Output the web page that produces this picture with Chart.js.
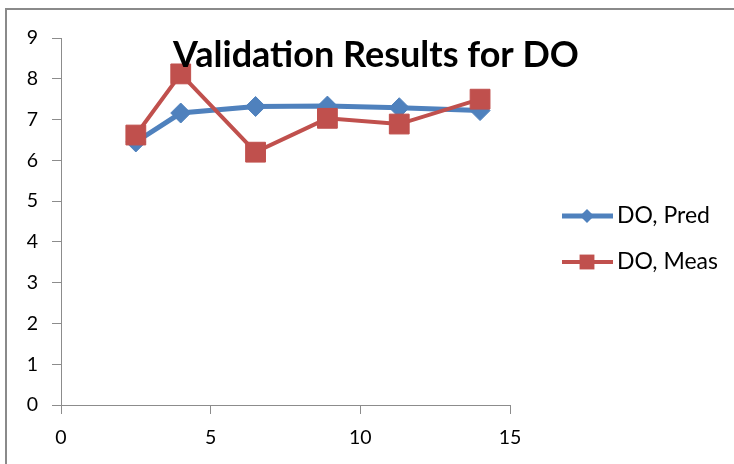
<!DOCTYPE html>
<html>
<head>
<meta charset="utf-8">
<script src="https://cdn.jsdelivr.net/npm/chart.js@4.4.0/dist/chart.umd.min.js"></script>
<style>
  html, body { margin: 0; padding: 0; background: #fff; }
  #wrap { position: relative; width: 734px; height: 464px; overflow: hidden; }
  #frame { position: absolute; left: 5px; top: 8px; width: 800px; height: 500px;
           border-left: 2px solid #8a8a8a; border-top: 2px solid #8a8a8a; }
  canvas { position: absolute; left: 0; top: 0; }
</style>
</head>
<body>
<div id="wrap">
  <div id="frame"></div>
  <canvas id="doChart" width="734" height="464"></canvas>
</div>
<script>
// ---- data ----
const chartTitle = 'Validation Results for DO';
const seriesNames = ['DO, Pred', 'DO, Meas'];
const xValues = [2.5, 4, 6.5, 8.9, 11.3, 14];
const predValues = [6.45, 7.16, 7.32, 7.33, 7.29, 7.22];
const measValues = [6.62, 8.12, 6.2, 7.03, 6.89, 7.5];
const xTicks = [0, 5, 10, 15];
const yTicks = [0, 1, 2, 3, 4, 5, 6, 7, 8, 9];

const blue = '#4F81BD';
const red = '#C0504D';
const axisGray = '#8c8c8c';

function toPoints(ys) {
    return xValues.map((x, i) => ({ x: x, y: ys[i] }));
}

// marker drawing shared by the legend
function drawMarker(ctx, style, r, x, y, color) {
    ctx.fillStyle = color;
    ctx.beginPath();
    if (style === 'rect') {
        const s = Math.SQRT1_2 * r;
        ctx.rect(x - s, y - s, 2 * s, 2 * s);
    } else {
        ctx.moveTo(x, y - r);
        ctx.lineTo(x + r, y);
        ctx.lineTo(x, y + r);
        ctx.lineTo(x - r, y);
        ctx.closePath();
    }
    ctx.fill();
}

// title overlaid on the plot, like the original
const overlayTitle = {
    id: 'overlayTitle',
    afterDraw(chart) {
        const ctx = chart.ctx;
        ctx.save();
        ctx.font = 'bold 36px Lato';
        ctx.fillStyle = '#000';
        ctx.textAlign = 'center';
        ctx.textBaseline = 'alphabetic';
        ctx.fillText(chartTitle, 376, 67);
        ctx.restore();
    }
};

// legend with line + marker samples
const lineLegend = {
    id: 'lineLegend',
    afterDraw(chart) {
        const ctx = chart.ctx;
        chart.data.datasets.forEach((ds, i) => {
            const y = 216 + i * 46;
            ctx.save();
            ctx.strokeStyle = ds.borderColor;
            ctx.lineWidth = ds.borderWidth;
            ctx.beginPath();
            ctx.moveTo(562, y);
            ctx.lineTo(613, y);
            ctx.stroke();
            drawMarker(ctx, ds.pointStyle, ds.pointStyle === 'rect' ? 10.5 : 7, 587, y, ds.borderColor);
            ctx.fillStyle = '#000';
            ctx.font = '23px Lato';
            ctx.textAlign = 'left';
            ctx.textBaseline = 'middle';
            ctx.fillText(ds.label, 617, y);
            ctx.restore();
        });
    }
};

Chart.defaults.font.family = 'Lato';
Chart.defaults.font.size = 19.5;
Chart.defaults.color = '#000';

const ctx = document.getElementById('doChart').getContext('2d');
const doChart = new Chart(ctx, {
    type: 'line',
    data: {
        datasets: [{
            label: seriesNames[0],
            data: toPoints(predValues),
            borderColor: blue,
            backgroundColor: blue,
            borderWidth: 5,
            pointStyle: 'rectRot',
            pointRadius: 10,
            pointBorderWidth: 1,
            order: 1,
            tension: 0
        }, {
            label: seriesNames[1],
            data: toPoints(measValues),
            borderColor: red,
            backgroundColor: red,
            borderWidth: 4,
            pointStyle: 'rect',
            pointRadius: 14,
            pointBorderWidth: 1,
            order: 0,
            tension: 0
        }]
    },
    options: {
        responsive: false,
        animation: false,
        layout: { padding: { left: 25, right: 224, top: 38, bottom: 0 } },
        plugins: {
            legend: { display: false },
            title: { display: false },
            tooltip: { enabled: false }
        },
        scales: {
            x: {
                type: 'linear',
                min: xTicks[0],
                max: xTicks[xTicks.length - 1],
                afterBuildTicks: s => { s.ticks = xTicks.map(v => ({ value: v })); },
                afterFit: s => { s.height = 59; },
                grid: { drawOnChartArea: false, drawTicks: true, tickLength: 9, color: axisGray },
                border: { display: true, color: axisGray, width: 1 },
                ticks: { padding: 12, maxRotation: 0 }
            },
            y: {
                type: 'linear',
                min: yTicks[0],
                max: yTicks[yTicks.length - 1],
                afterBuildTicks: s => { s.ticks = yTicks.map(v => ({ value: v })); },
                afterFit: s => { s.width = 36; },
                grid: { drawOnChartArea: false, drawTicks: true, tickLength: 9, color: axisGray },
                border: { display: true, color: axisGray, width: 1 },
                ticks: { padding: 14 }
            }
        }
    },
    plugins: [overlayTitle, lineLegend]
});
</script>
</body>
</html>
